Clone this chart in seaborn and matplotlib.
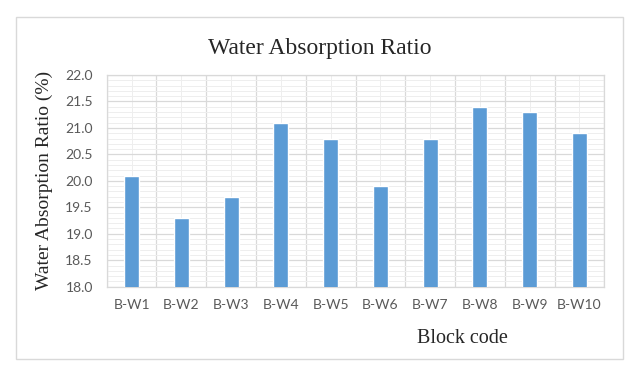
import numpy as np
import pandas as pd
import matplotlib
matplotlib.use("Agg")
import matplotlib.pyplot as plt
import matplotlib.patches as patches
import seaborn as sns

block_codes = ["B-W1", "B-W2", "B-W3", "B-W4", "B-W5", "B-W6", "B-W7", "B-W8", "B-W9", "B-W10"]
absorption = [20.1, 19.3, 19.7, 21.1, 20.8, 19.9, 20.8, 21.4, 21.3, 20.9]

df = pd.DataFrame({"Block code": block_codes, "Water Absorption Ratio": absorption})

sns.set_style("white")
plt.rcParams["font.family"] = ["Lato", "DejaVu Sans"]

fig = plt.figure(figsize=(6.37, 3.75), dpi=100)
ax = fig.add_axes([106.7 / 637, 1 - 286.7 / 375, 497.6 / 637, 211.7 / 375])

sns.barplot(data=df, x="Block code", y="Water Absorption Ratio", color="#5B9BD5",
            width=0.3, saturation=1, ax=ax, zorder=3)

ax.set_ylim(18.0, 22.0)
ax.set_xlim(-0.5, len(block_codes) - 0.5)
ax.set_yticks(np.arange(18.0, 22.01, 0.5))
ax.set_yticklabels([f"{v:.1f}" for v in np.arange(18.0, 22.01, 0.5)])
ax.set_yticks(np.arange(18.0, 22.01, 0.1), minor=True)
ax.set_xticks(np.arange(-0.5, len(block_codes)), minor=True)

# gridlines: darker at 0.5 steps and category boundaries, lighter in between
ax.grid(which="major", axis="y", color="#d9d9d9", linewidth=0.9, zorder=0)
ax.grid(which="minor", axis="y", color="#eeeeee", linewidth=0.7, zorder=0)
ax.grid(which="minor", axis="x", color="#d9d9d9", linewidth=0.9, zorder=0)
ax.grid(which="major", axis="x", color="#eeeeee", linewidth=0.7, zorder=0)
ax.set_axisbelow(True)

ax.tick_params(which="both", length=0)
ax.tick_params(axis="both", labelsize=10, labelcolor="#595959")
ax.tick_params(axis="x", pad=9)
ax.tick_params(axis="y", pad=10)
for s in ax.spines.values():
    s.set_color("#d9d9d9")
    s.set_linewidth(0.9)

# title is centred on the whole chart area, not on the plot
ax.set_title("Water Absorption Ratio", family="Liberation Serif", fontsize=17, pad=15, x=0.428)
ax.set_xlabel("Block code", family="Liberation Serif", fontsize=14.5)
ax.xaxis.set_label_coords(0.714, -0.2)
ax.set_ylabel("Water Absorption Ratio (%)", family="Liberation Serif", fontsize=14)
ax.yaxis.set_label_coords(-0.108, 0.5)

# chart border
fig.patches.append(patches.Rectangle((15.7 / 637, 1 - 359.3 / 375), 607 / 637, 342 / 375,
                                     transform=fig.transFigure, fill=False,
                                     edgecolor="#d9d9d9", linewidth=1))

fig.savefig("out.png", dpi=100)
